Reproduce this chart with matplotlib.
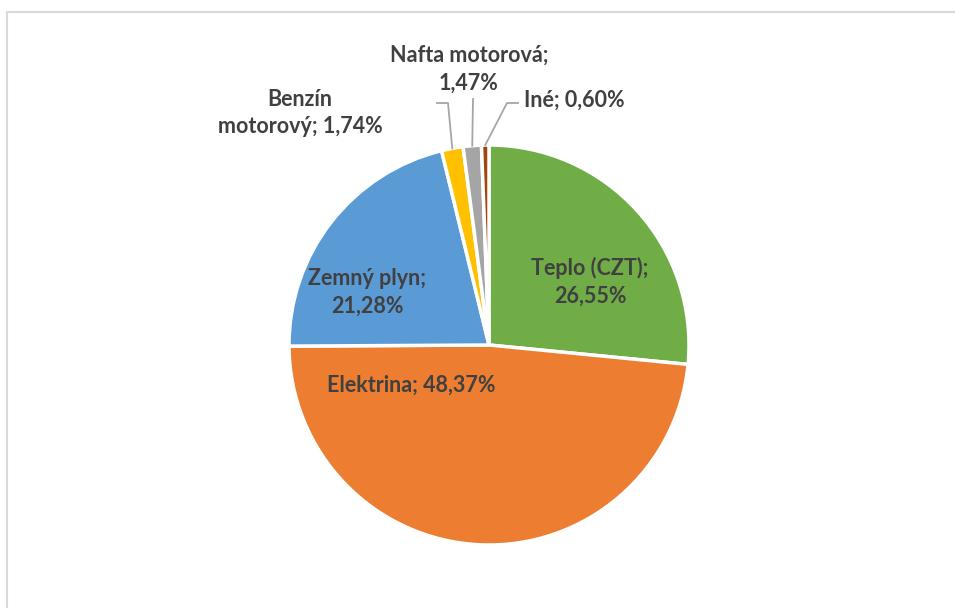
import numpy as np
import matplotlib
matplotlib.use('Agg')
import matplotlib.pyplot as plt
from matplotlib.patches import Rectangle

## Data.
labels = ['Teplo (CZT)', 'Elektrina', 'Zemný plyn', 'Benzín motorový',
          'Nafta motorová', 'Iné']
values = [26.55, 48.37, 21.28, 1.74, 1.47, 0.60]
colors = ['#70AD47', '#ED7D31', '#5B9BD5', '#FFC000', '#A5A5A5', '#9E480E']
label_texts = ['Teplo (CZT);\n26,55%', 'Elektrina; 48,37%', 'Zemný plyn;\n21,28%',
               'Benzín\nmotorový; 1,74%', 'Nafta motorová;\n1,47%', 'Iné; 0,60%']

## Label placement, in pie radius units relative to the centre.
label_pos = [(0.505, 0.315), (-0.39, -0.20), (-0.61, 0.265),
             (-0.945, 1.16), (-0.10, 1.38), (0.425, 1.225)]
## Leader line bends (None = no leader line).
leaders = [None, None, None,
           [(-0.205, 1.21), (-0.26, 1.21)],
           [(-0.08, 1.23)],
           [(0.09, 1.21), (0.145, 1.21)]]

W, H = 955, 608
cx, cy, R = 489, H - 345, 200

fig = plt.figure(figsize=(W / 100, H / 100), dpi=100)
ax = fig.add_axes([0, 0, 1, 1])
ax.set_xlim(0, W)
ax.set_ylim(0, H)
ax.set_aspect('equal')
ax.axis('off')

## Chart area frame (cropped at right and bottom).
ax.add_patch(Rectangle((7, -10), W, H - 12 + 10, fill=False,
                       edgecolor='#D9D9D9', lw=1.5))

wedges, _ = ax.pie(values, colors=colors, startangle=90, counterclock=False,
                   center=(cx, cy), radius=R,
                   wedgeprops=dict(edgecolor='white', linewidth=2.5))
ax.set_xlim(0, W)
ax.set_ylim(0, H)

txt_color = '#404040'
total = sum(values)
cum = 0
for i, v in enumerate(values):
  mid = np.deg2rad(90 - (cum + v / 2) / total * 360)
  cum += v
  lx, ly = label_pos[i]
  ax.text(cx + lx * R, cy + ly * R, label_texts[i], ha='center', va='center',
          fontsize=15.5, fontweight='bold', color=txt_color, family='Lato',
          linespacing=1.4)
  if leaders[i] is not None:
    pts = [(np.cos(mid) * 1.0, np.sin(mid) * 1.0)] + leaders[i]
    xs = [cx + p[0] * R for p in pts]
    ys = [cy + p[1] * R for p in pts]
    ax.plot(xs, ys, color='#A6A6A6', lw=1.3)

fig.savefig('out.png', dpi=100)
